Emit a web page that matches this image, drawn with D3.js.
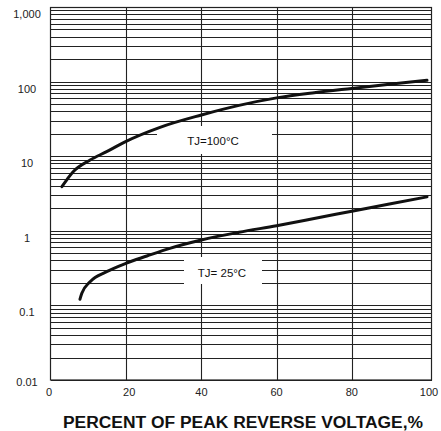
<!DOCTYPE html>
<html>
<head>
<meta charset="utf-8">
<script src="https://cdn.jsdelivr.net/npm/d3@7"></script>
<style>
body{margin:0;background:#fff;}
svg{font-family:"Liberation Sans",Arial,sans-serif;}
</style>
</head>
<body>
<div id="chart"></div>
<script>
// reverse current vs percent of peak reverse voltage
var xTicks=[0,20,40,60,80,100];
var yTicks=[1000,100,10,1,0.1,0.01];
var yLabels=["1,000","100","10","1","0.1","0.01"];

var hotPct=[2.9,5.9,10.4,14.8,19.7,29,40,50,60,70,80,90,100];
var hotVal=[3.9,6.2,8.9,11.5,15.6,24.4,35.7,48,60.5,71,81,92,104];
var coldPct=[7.7,8.2,10.4,14.8,19.9,25.5,31.6,40,50,60,70,80,90,100];
var coldVal=[0.121,0.145,0.208,0.283,0.366,0.459,0.582,0.753,0.955,1.17,1.46,1.83,2.29,2.85];

var W=441,H=431;
var svg=d3.select("#chart").append("svg")
	.attr("width",W)
	.attr("height",H);

var x=d3.scaleLinear().domain([0,100]).range([51,427]);
var y=d3.scaleLog().domain([0.01,1000]).range([380,7]);

// horizontal grid, every k*10^d
var grid=[];
for(var d=-2;d<3;d++){
	for(var k=1;k<10;k++) grid.push(k*Math.pow(10,d));
}
grid.push(1000);

svg.selectAll("line.h").data(grid).enter().append("line")
	.attr("class","h")
	.attr("x1",51).attr("x2",432)
	.attr("y1",function(v){return Math.round(y(v))+0.5;})
	.attr("y2",function(v){return Math.round(y(v))+0.5;})
	.attr("stroke","#222").attr("stroke-width",1.1);

svg.selectAll("line.v").data([20,40,60,80]).enter().append("line")
	.attr("class","v")
	.attr("x1",function(v){return Math.round(x(v))+0.5;})
	.attr("x2",function(v){return Math.round(x(v))+0.5;})
	.attr("y1",7).attr("y2",380)
	.attr("stroke","#222").attr("stroke-width",1.1);

// frame
svg.append("rect")
	.attr("x",50.5).attr("y",7.5)
	.attr("width",381).attr("height",372.5)
	.attr("fill","none").attr("stroke","#222").attr("stroke-width",1.2);

// white boxes behind the curve labels
svg.append("rect").attr("x",157).attr("y",126).attr("width",115).attr("height",28).attr("fill","#fff");
svg.append("rect").attr("x",184).attr("y",257).attr("width",78).attr("height",27).attr("fill","#fff");

var line=d3.line()
	.x(function(d){return x(d[0]);})
	.y(function(d){return y(d[1]);})
	.curve(d3.curveMonotoneX);

svg.append("path")
	.datum(d3.zip(hotPct,hotVal))
	.attr("d",line)
	.attr("fill","none").attr("stroke","#111")
	.attr("stroke-width",3).attr("stroke-linecap","round");
svg.append("path")
	.datum(d3.zip(coldPct,coldVal))
	.attr("d",line)
	.attr("fill","none").attr("stroke","#111")
	.attr("stroke-width",3).attr("stroke-linecap","round");

svg.append("text").attr("x",213).attr("y",145)
	.attr("text-anchor","middle").attr("font-size",11.5).attr("fill","#111")
	.text("TJ=100°C");
svg.append("text").attr("x",222).attr("y",277)
	.attr("text-anchor","middle").attr("font-size",11.5).attr("fill","#111")
	.text("TJ= 25°C");

// y tick labels
svg.selectAll("text.yl").data(yTicks).enter().append("text")
	.attr("class","yl")
	.attr("x",27)
	.attr("y",function(v,i){return y(v)+(v==0.01?6:11);})
	.attr("text-anchor","middle").attr("font-size",11).attr("fill","#222")
	.text(function(v,i){return yLabels[i];});

// x tick labels
svg.selectAll("text.xl").data(xTicks).enter().append("text")
	.attr("class","xl")
	.attr("x",function(v){return v==0?49:(v==100?429:x(v)+(v==20?3:0));})
	.attr("y",396)
	.attr("text-anchor","middle").attr("font-size",11).attr("fill","#222")
	.text(function(v){return v;});

svg.append("text")
	.attr("x",243).attr("y",428)
	.attr("text-anchor","middle")
	.attr("font-size",16).attr("font-weight","bold").attr("fill","#111")
	.attr("textLength",360).attr("lengthAdjust","spacingAndGlyphs")
	.text("PERCENT OF PEAK REVERSE VOLTAGE,%");
</script>
</body>
</html>
